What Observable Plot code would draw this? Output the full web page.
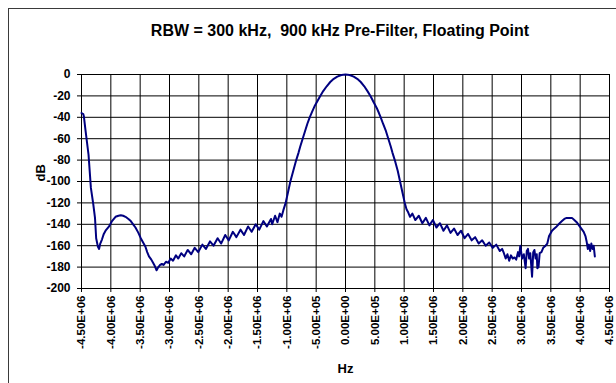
<!DOCTYPE html>
<html><head><meta charset="utf-8">
<script src="https://cdn.jsdelivr.net/npm/d3@7"></script>
<script src="https://cdn.jsdelivr.net/npm/@observablehq/plot@0.6"></script>
<style>
body{margin:0;background:#fff;}
#wrap{position:relative;width:616px;height:383px;overflow:hidden;font-family:"Liberation Sans",Arial,sans-serif;}
#frame{position:absolute;left:8px;top:8px;width:700px;height:500px;border:1.5px solid #3a3a3a;box-sizing:border-box;}
#title{position:absolute;left:8px;width:664px;top:22px;text-align:center;font-weight:bold;font-size:16px;white-space:pre;color:#000;}
#chart{position:absolute;left:0;top:0;}
</style></head><body>
<div id="wrap"><div id="frame"></div><div id="title"></div><div id="chart"></div></div>
<script>
const titleText = "RBW = 300 kHz,  900 kHz Pre-Filter, Floating Point";
const xLabel = "Hz";
const yLabel = "dB";
const xTicks = [-4.5e6,-4.0e6,-3.5e6,-3.0e6,-2.5e6,-2.0e6,-1.5e6,-1.0e6,-5e5,0,5e5,1.0e6,1.5e6,2.0e6,2.5e6,3.0e6,3.5e6,4.0e6,4.5e6];
const xTickLabels = ["-4.50E+06","-4.00E+06","-3.50E+06","-3.00E+06","-2.50E+06","-2.00E+06","-1.50E+06","-1.00E+06","-5.00E+05","0.00E+00","5.00E+05","1.00E+06","1.50E+06","2.00E+06","2.50E+06","3.00E+06","3.50E+06","4.00E+06","4.50E+06"];
const yTicks = [0,-20,-40,-60,-80,-100,-120,-140,-160,-180,-200];

const freqHz = [
-4.50e6,-4.47e6,-4.46e6,-4.43e6,-4.38e6,-4.34e6,-4.30e6,-4.27e6,-4.25e6,-4.22e6,-4.20e6,-4.18e6,-4.15e6,-4.12e6,-4.09e6,-4.03e6,-3.98e6,-3.92e6,-3.87e6,-3.83e6,-3.79e6,-3.75e6,-3.70e6,-3.66e6,-3.62e6,-3.58e6,-3.53e6,-3.49e6,-3.45e6,-3.41e6,-3.38e6,-3.35e6,-3.31e6,-3.28e6,-3.25e6,-3.22e6,-3.19e6,-3.16e6,-3.13e6,-3.10e6,-3.06e6,-3.02e6,
-2.98e6,-2.94e6,-2.89e6,-2.85e6,-2.80e6,-2.75e6,-2.69e6,-2.63e6,-2.57e6,-2.51e6,-2.44e6,-2.38e6,-2.31e6,-2.25e6,-2.18e6,-2.12e6,-2.05e6,-1.99e6,-1.92e6,-1.86e6,-1.79e6,-1.73e6,-1.66e6,-1.60e6,-1.53e6,-1.47e6,-1.40e6,-1.34e6,-1.27e6,-1.25e6,-1.20e6,-1.16e6,-1.12e6,-1.09e6,
-1.06e6,-1.02e6,-0.98e6,-0.94e6,-0.89e6,-0.84e6,-0.80e6,-0.77e6,-0.73e6,-0.69e6,-0.65e6,-0.61e6,-0.57e6,-0.53e6,-0.48e6,-0.43e6,-0.38e6,-0.32e6,-0.26e6,-0.20e6,-0.14e6,-0.07e6,0,
0.07e6,0.14e6,0.20e6,0.26e6,0.32e6,0.38e6,0.43e6,0.48e6,0.53e6,0.57e6,0.60e6,0.64e6,0.69e6,0.73e6,0.77e6,0.80e6,0.84e6,0.89e6,0.93e6,0.97e6,1.01e6,1.04e6,
1.07e6,1.10e6,1.14e6,1.19e6,1.25e6,1.31e6,1.37e6,1.43e6,1.49e6,1.55e6,1.61e6,1.67e6,1.73e6,1.79e6,1.85e6,1.91e6,1.97e6,2.03e6,2.09e6,2.15e6,2.21e6,2.27e6,2.33e6,2.39e6,2.45e6,2.51e6,2.57e6,2.63e6,2.67e6,
2.70e6,2.73e6,2.76e6,2.79e6,2.82e6,2.85e6,2.88e6,2.91e6,2.94e6,2.96e6,2.98e6,3.01e6,3.04e6,3.07e6,3.09e6,3.11e6,3.13e6,3.15e6,3.18e6,3.20e6,3.22e6,3.24e6,3.26e6,3.27e6,3.29e6,3.31e6,3.34e6,3.37e6,3.41e6,3.44e6,3.47e6,
3.52e6,3.56e6,3.60e6,3.65e6,3.69e6,3.73e6,3.77e6,3.82e6,3.86e6,3.90e6,3.94e6,3.98e6,4.02e6,4.06e6,4.09e6,4.11e6,4.13e6,4.15e6,4.17e6,4.19e6,4.21e6,4.23e6,4.25e6
];
const levelDb = [
-36,-37,-39,-53,-75,-106,-121,-134,-153,-161,-163,-158,-154,-149,-146,-142,-137,-133,-132,-131.5,-132,-133,-135,-137,-140,-143,-148,-153,-157,-161,-166,-170,-173,-176,-179,-183,-180,-178,-177,-178,-175,-176,
-172,-174,-169,-172,-167,-170,-164,-168,-162,-166,-159,-163,-156,-160,-153,-158,-150,-155,-147,-152,-145,-150,-142,-147,-140,-145,-137,-142,-135,-140,-132,-138,-130,-133,
-127,-120,-110,-100,-90,-80,-73,-67,-60,-53,-46,-40,-35,-30,-25,-20,-15.5,-11,-7,-4,-2,-0.5,0,
-0.5,-2,-4,-7,-11,-16,-20.5,-26,-31,-36,-40,-46,-53,-60,-67,-73,-80,-90,-100,-110,-120,-126,
-129,-133,-130,-136,-132,-139,-134,-141,-136,-143,-139,-146,-141,-148,-144,-150,-146,-153,-149,-155,-152,-158,-155,-160,-157,-162,-159,-165,-163,
-167,-172,-168,-174,-169,-172,-171,-173,-166,-170,-160,-172,-168,-181,-165,-163,-172,-167,-189,-166,-164,-172,-168,-181,-180,-167,-166,-162,-160,-158,-151,
-146,-144,-142,-139,-137,-135,-134,-134,-134,-136,-138,-141,-144,-147,-151,-156,-163,-159,-165,-158,-163,-160,-170
];

const data = freqHz.map((hz, i) => ({hz, db: levelDb[i]}));
const xLabelMap = new Map(xTicks.map((t, i) => [t, xTickLabels[i]]));

document.getElementById("title").textContent = titleText;

const chart = Plot.plot({
  width: 616, height: 383,
  marginLeft: 81, marginRight: 7, marginTop: 74, marginBottom: 95,
  style: {fontFamily: "'Liberation Sans', Arial, sans-serif", fontSize: "11px", fontWeight: "bold", background: "transparent", color: "#000"},
  x: {domain: [-4.5e6, 4.5e6]},
  y: {domain: [-200, 0]},
  marks: [
    Plot.ruleY(yTicks, {stroke: "#000", strokeWidth: 1}),
    Plot.ruleX(xTicks, {stroke: "#000", strokeWidth: 1}),
    Plot.axisY({ticks: yTicks, tickSize: 4, tickPadding: 7, fontSize: 12, tickFormat: d => String(d), label: null, stroke: "#000"}),
    Plot.axisX({ticks: xTicks, tickSize: 4, tickPadding: 3, fontSize: 11.5, tickRotate: -90, tickFormat: d => xLabelMap.get(d), label: null}),
    Plot.text([yLabel], {frameAnchor: "left", dx: -41, rotate: -90, fontSize: 13, fontWeight: "bold"}),
    Plot.text([xLabel], {frameAnchor: "bottom", dy: 80, fontSize: 13, fontWeight: "bold", lineAnchor: "middle"}),
    Plot.line(data, {x: "hz", y: "db", stroke: "#000080", strokeWidth: 2})
  ]
});
document.getElementById("chart").appendChild(chart);
</script>
</body></html>
